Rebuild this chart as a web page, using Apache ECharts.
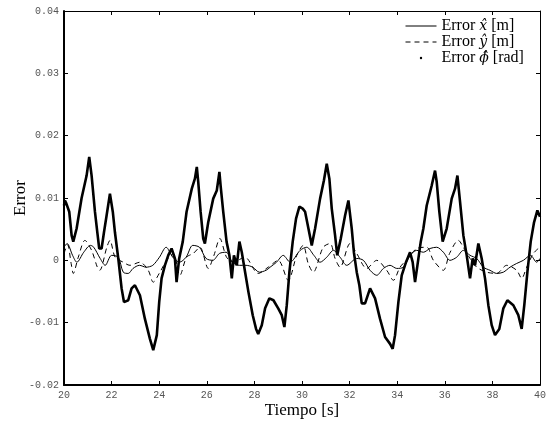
<!DOCTYPE html>
<html>
<head>
<meta charset="utf-8">
<script src="https://cdn.jsdelivr.net/npm/echarts@6/dist/echarts.min.js"></script>
<style>html,body{margin:0;padding:0;background:#fff}#c{width:555px;height:425px}</style>
</head>
<body>
<div id="c"></div>
<script>
// ---- data ----
const xTicks = [20, 22, 24, 26, 28, 30, 32, 34, 36, 38, 40];
const yTicks = [-0.02, -0.01, 0, 0.01, 0.02, 0.03, 0.04];
const seriesNames = ['Error x\u0302 [m]', 'Error y\u0302 [m]', 'Error \u03D5\u0302 [rad]'];

// Error x (solid)
const exT = [20.0,20.13,20.36,20.54,20.83,21.11,21.25,21.52,21.73,22.0,22.28,22.49,22.7,22.9,23.17,23.45,23.73,24.01,24.29,24.57,24.85,25.13,25.41,25.69,25.97,26.25,26.53,26.81,27.08,27.37,27.65,27.93,28.21,28.49,28.66,28.93,29.21,29.5,29.92,30.2,30.5,30.76,31.04,31.32,31.6,31.88,32.3,32.58,32.86,33.14,33.42,33.7,33.98,34.26,34.54,34.82,35.1,35.38,35.66,35.94,36.22,36.5,36.78,37.06,37.34,37.62,37.9,38.18,38.46,38.74,39.02,39.3,39.6,39.86,40.0];
const exV = [0.0021,0.0027,0.0008,-0.0003,0.0013,0.0024,0.0021,0.0003,-0.0008,0.0008,0.0005,-0.0019,-0.0021,-0.0013,-0.0008,-0.0011,-0.0008,0.0005,0.0021,0.0005,-0.0003,0.0005,0.0024,0.0021,0.0003,0.0,0.0011,0.0013,-0.0003,-0.0008,-0.0008,-0.0011,-0.0019,-0.0016,-0.0011,-0.0003,0.0008,-0.0003,0.0016,0.0021,0.0008,-0.0003,0.0005,0.0016,0.0005,-0.0008,0.0003,0.0,-0.0016,-0.0024,-0.0013,-0.0008,-0.0013,-0.0011,0.0008,0.0016,0.0013,0.0019,0.0021,0.0013,0.0,0.0005,0.0016,0.0008,0.0003,-0.0011,-0.0016,-0.0021,-0.0019,-0.0011,-0.0005,0.0,0.0008,-0.0003,0.0003];

// Error y (dashed)
const eyT = [20.0,20.15,20.3,20.39,20.6,20.88,21.16,21.4,21.5,21.8,21.93,22.15,22.49,22.77,23.19,23.54,23.75,24.03,24.31,24.59,24.87,25.15,25.43,25.71,26.06,26.3,26.55,26.83,27.11,27.6,28.16,28.58,29.0,29.42,29.78,30.05,30.26,30.47,30.89,31.18,31.39,31.6,32.02,32.3,32.72,33.14,33.56,33.84,34.12,34.5,34.82,35.24,35.52,35.94,36.2,36.57,36.78,37.06,37.34,37.76,38.18,38.6,39.02,39.23,39.44,39.72,39.93];
const eyV = [0.0011,0.0025,-0.0005,-0.0021,0.0005,0.0032,0.0016,-0.0011,-0.0016,0.0021,0.0032,0.0005,-0.0003,-0.0008,-0.0003,-0.0016,-0.0035,-0.0019,0.0,0.0011,-0.0024,0.0005,0.0011,0.0021,-0.0013,0.0008,0.0035,0.0005,-0.0003,0.0005,-0.0021,-0.0011,0.0,-0.0032,0.0008,0.0024,-0.0005,-0.0019,0.0021,0.0027,0.0003,-0.0011,0.0027,0.0011,-0.0013,0.0,-0.0016,-0.0032,-0.0011,0.0005,0.0019,0.0021,0.0,-0.0016,0.0011,0.0032,0.0021,0.0003,-0.0011,-0.0019,-0.0021,-0.0008,-0.0016,-0.0029,-0.0011,0.0011,0.0019];

// Error phi (thick dotted)
const epT = [20.0,20.04,20.1,20.22,20.32,20.39,20.53,20.74,20.95,21.06,21.16,21.3,21.4,21.48,21.58,21.68,21.79,21.93,22.05,22.14,22.28,22.42,22.52,22.7,22.84,22.98,23.19,23.4,23.61,23.75,23.9,24.0,24.1,24.24,24.38,24.52,24.66,24.73,24.84,24.99,25.15,25.37,25.5,25.58,25.64,25.74,25.85,25.92,26.06,26.27,26.42,26.53,26.58,26.69,26.83,26.95,27.05,27.14,27.26,27.37,27.47,27.61,27.75,27.93,28.07,28.16,28.31,28.45,28.63,28.8,29.0,29.15,29.26,29.36,29.47,29.61,29.75,29.89,30.03,30.13,30.27,30.41,30.55,30.76,30.92,31.04,31.15,31.25,31.39,31.48,31.63,31.81,31.95,32.09,32.18,32.3,32.41,32.51,32.65,32.86,33.07,33.28,33.49,33.7,33.81,33.91,34.05,34.19,34.37,34.54,34.65,34.75,34.85,34.99,35.1,35.24,35.45,35.59,35.66,35.77,35.91,36.08,36.29,36.43,36.53,36.64,36.78,36.92,37.06,37.17,37.27,37.41,37.55,37.69,37.83,37.97,38.11,38.29,38.46,38.63,38.88,39.09,39.23,39.34,39.47,39.61,39.75,39.89,40.0];
const epV = [0.0088,0.0096,0.0091,0.0078,0.0040,0.0030,0.0051,0.0100,0.0136,0.0166,0.0136,0.0078,0.0045,0.0019,0.0019,0.0045,0.0072,0.0107,0.0078,0.0045,0.0003,-0.0045,-0.0067,-0.0064,-0.0045,-0.0040,-0.0056,-0.0094,-0.0126,-0.0144,-0.0120,-0.0067,-0.0029,-0.0008,0.0008,0.0019,0.0003,-0.0035,0.0003,0.0030,0.0078,0.0115,0.0131,0.0150,0.0126,0.0078,0.0035,0.0027,0.0061,0.0099,0.0112,0.0142,0.0120,0.0078,0.0030,0.0008,-0.0029,0.0008,-0.0008,0.0030,0.0013,-0.0019,-0.0051,-0.0088,-0.0110,-0.0118,-0.0104,-0.0077,-0.0061,-0.0064,-0.0077,-0.0088,-0.0107,-0.0072,-0.0019,0.0030,0.0067,0.0086,0.0083,0.0078,0.0051,0.0024,0.0051,0.0099,0.0128,0.0155,0.0131,0.0083,0.0040,0.0008,0.0035,0.0072,0.0096,0.0051,0.0013,-0.0019,-0.0040,-0.0069,-0.0069,-0.0045,-0.0061,-0.0094,-0.0123,-0.0134,-0.0142,-0.0120,-0.0067,-0.0024,-0.0003,0.0013,-0.0003,-0.0035,-0.0008,0.0030,0.0051,0.0088,0.0120,0.0144,0.0126,0.0078,0.0030,0.0051,0.0099,0.0115,0.0136,0.0094,0.0040,0.0008,-0.0029,0.0003,-0.0008,0.0027,0.0003,-0.0029,-0.0072,-0.0104,-0.0120,-0.0110,-0.0077,-0.0064,-0.0072,-0.0088,-0.0110,-0.0072,-0.0019,0.0030,0.0061,0.0080,0.0070];

const zip = (t, v) => t.map((x, i) => [x, v[i]]);

const tickFont = {fontFamily: 'Liberation Mono', fontSize: 10, color: '#555'};
const serif = 'Liberation Serif';
const mathFont = 'DejaVu Serif';

const legendRich = {
  [seriesNames[0]]: '{a|Error }{i|x\u0302}{a| [m]}',
  [seriesNames[1]]: '{a|Error }{i|y\u0302}{a| [m]}',
  [seriesNames[2]]: '{a|Error }{i|\u03D5\u0302}{a| [rad]}'
};

const chart = echarts.init(document.getElementById('c'), null, {renderer: 'canvas'});
chart.setOption({
  animation: false,
  backgroundColor: '#fff',
  grid: {left: 64, right: 15, top: 11, bottom: 40, containLabel: false, outerBoundsMode: 'none'},
  legend: {
    left: 400, top: 13, orient: 'vertical',
    itemWidth: 31, itemHeight: 3, itemGap: 0,
    lineStyle: {width: 1},
    data: [
      {name: seriesNames[0], itemStyle: {opacity: 0}},
      {name: seriesNames[1], itemStyle: {opacity: 0}},
      {name: seriesNames[2], lineStyle: {opacity: 0}}
    ],
    formatter: n => legendRich[n],
    textStyle: {
      fontFamily: serif, fontSize: 16, color: '#000', lineHeight: 14,
      rich: {
        a: {fontFamily: serif, fontSize: 16, color: '#000', lineHeight: 14},
        i: {fontFamily: mathFont, fontSize: 14, fontStyle: 'italic', color: '#000', lineHeight: 14}
      }
    }
  },
  xAxis: [{
    type: 'value', min: xTicks[0], max: xTicks[xTicks.length - 1], interval: 2,
    name: 'Tiempo [s]', nameLocation: 'middle', nameGap: 17, nameMoveOverlap: false,
    nameTextStyle: {fontFamily: serif, fontSize: 17, color: '#000', verticalAlign: 'top'},
    axisLine: {show: true, onZero: false, lineStyle: {color: '#000', width: 2}},
    axisTick: {inside: true, length: 4, lineStyle: {color: '#000'}},
    axisLabel: Object.assign({margin: 5}, tickFont),
    splitLine: {show: false}
  }, {
    type: 'value', position: 'top', min: xTicks[0], max: xTicks[xTicks.length - 1], interval: 2,
    axisLine: {show: true, onZero: false, lineStyle: {color: '#000', width: 1}},
    axisTick: {inside: true, length: 4, lineStyle: {color: '#000'}},
    axisLabel: {show: false}, splitLine: {show: false}
  }],
  yAxis: [{
    type: 'value', min: yTicks[0], max: yTicks[yTicks.length - 1], interval: 0.01,
    name: 'Error', nameLocation: 'middle', nameGap: 35, nameRotate: 90, nameMoveOverlap: false,
    nameTextStyle: {fontFamily: serif, fontSize: 17, color: '#000'},
    axisLine: {show: true, onZero: false, lineStyle: {color: '#000', width: 2}},
    axisTick: {inside: true, length: 4, lineStyle: {color: '#000'}},
    axisLabel: Object.assign({margin: 5}, tickFont),
    splitLine: {show: false}
  }, {
    type: 'value', position: 'right', min: yTicks[0], max: yTicks[yTicks.length - 1], interval: 0.01,
    axisLine: {show: true, onZero: false, lineStyle: {color: '#000', width: 1}},
    axisTick: {inside: true, length: 4, lineStyle: {color: '#000'}},
    axisLabel: {show: false}, splitLine: {show: false}
  }],
  series: [{
    name: seriesNames[0], type: 'line', data: zip(exT, exV), symbol: 'none', smooth: 0.3,
    lineStyle: {color: '#000', width: 1}, itemStyle: {color: '#000'}
  }, {
    name: seriesNames[1], type: 'line', data: zip(eyT, eyV), symbol: 'none', smooth: 0.3,
    lineStyle: {color: '#000', width: 1, type: [5, 4]}, itemStyle: {color: '#000'}
  }, {
    name: seriesNames[2], type: 'line', data: zip(epT, epV), symbol: 'circle', symbolSize: 2, showSymbol: false,
    lineStyle: {color: '#000', width: 2.6}, itemStyle: {color: '#000'}
  }]
});
</script>
</body>
</html>
